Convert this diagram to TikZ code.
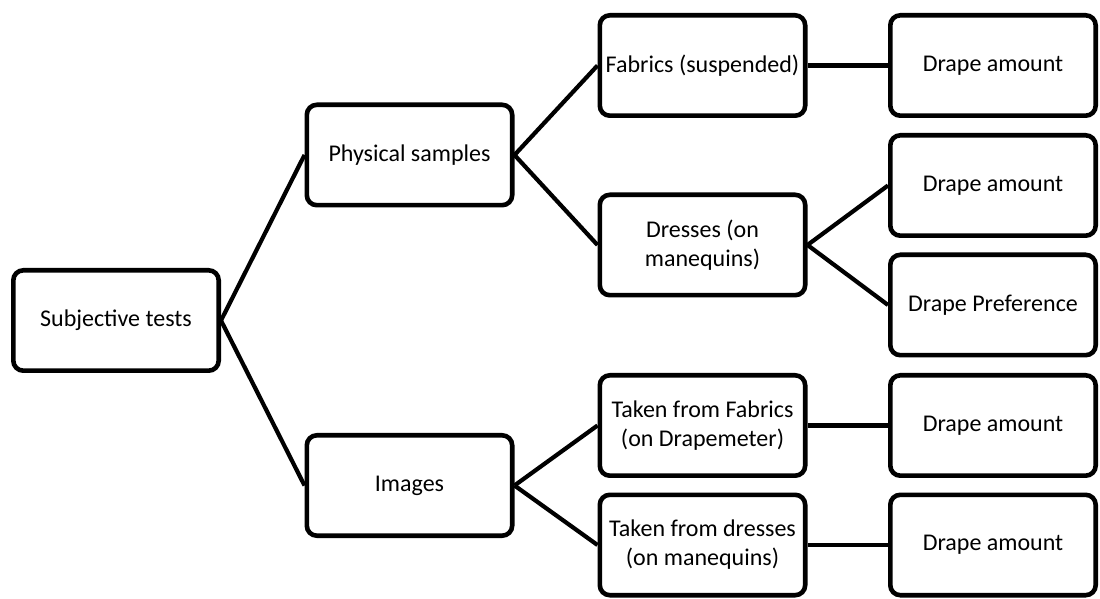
\documentclass[tikz,border=0pt]{standalone}
\usepackage{fontspec}
\setmainfont{Carlito}
\usepackage{tikz}
\usetikzlibrary{positioning}

\begin{document}
\begin{tikzpicture}[x=0.5pt,y=-0.5pt,
        box/.style={draw=black,line width=2.3pt,rounded corners=5pt,fill=white,
                    minimum width=102.7pt,minimum height=50.2pt,inner sep=1pt,
                    font=\fontsize{12}{14.5}\selectfont,align=center},
        link/.style={line width=2.1pt,black}]
        \useasboundingbox (0,0) rectangle (1100,599);
        \node[box] (subj) at (116,320.5) {Subjective tests};

        % second level
        \node[box] (phys) at (409.5,155)   {Physical samples};
        \node[box] (img)  at (409.5,485.5) {Images};

        % third level
        \node[box] (fab)  at (702.5,65.5)  {Fabrics (suspended)};
        \node[box] (dres) at (702.5,245)   {Dresses (on\\manequins)};
        \node[box] (tff)  at (702.5,425.5) {Taken from Fabrics\\(on Drapemeter)};
        \node[box] (tfd)  at (702.5,545)   {Taken from dresses\\(on manequins)};

        % results
        \node[box] (amt1) at (993,65.5)  {Drape amount};
        \node[box] (amt2) at (993,185.5) {Drape amount};
        \node[box] (pref) at (993,305)   {Drape Preference};
        \node[box] (amt4) at (993,425.5) {Drape amount};
        \node[box] (amt5) at (993,545)   {Drape amount};

        \draw[link] (subj.east)--(phys.west); \draw[link] (subj.east)--(img.west);
        \draw[link] (phys.east)--(fab.west);  \draw[link] (phys.east)--(dres.west);
        \draw[link] (img.east)--(tff.west);   \draw[link] (img.east)--(tfd.west);
        \draw[link] (dres.east)--(amt2.west); \draw[link] (dres.east)--(pref.west);
        \draw[link] (fab)--(amt1);
        \draw[link] (tff)--(amt4);
        \draw[link] (tfd)--(amt5);
      \end{tikzpicture}
\end{document}
